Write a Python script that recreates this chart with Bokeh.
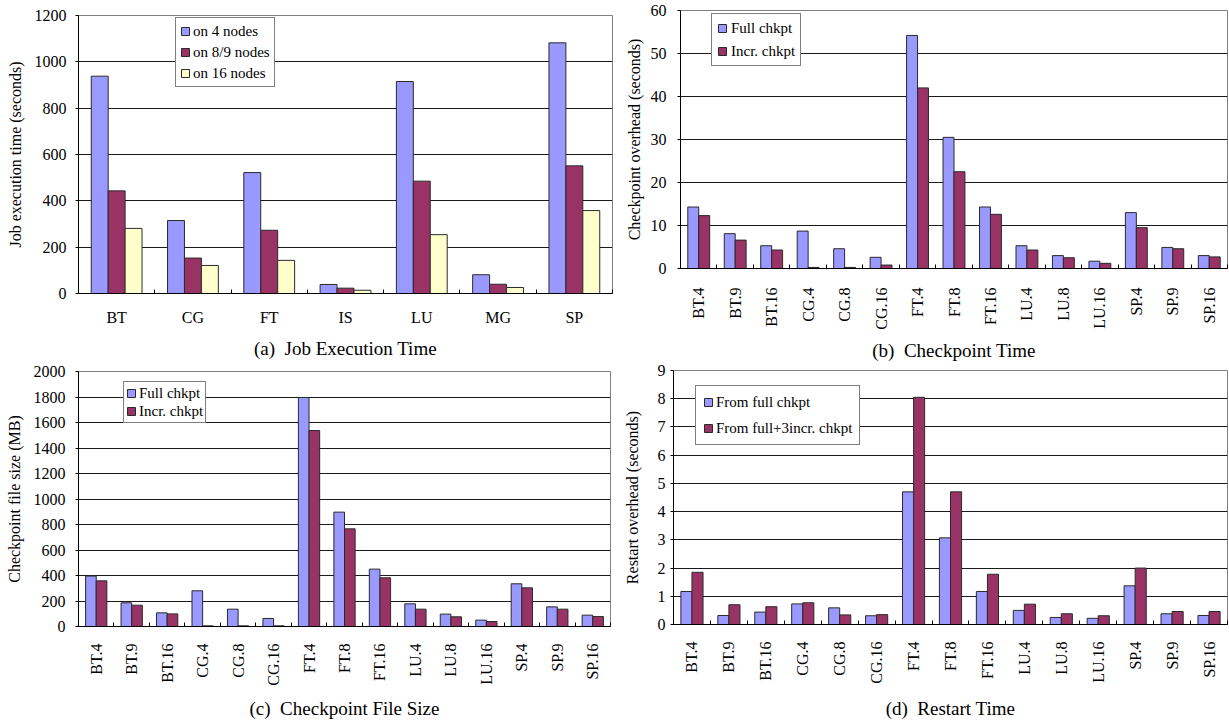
import math
from bokeh.plotting import figure
from bokeh.models import Range1d, FixedTicker, Legend, LegendItem
from bokeh.layouts import column, row
from bokeh.embed import file_html
from bokeh.resources import INLINE

# ---------------- data ----------------
a_categories = ["BT", "CG", "FT", "IS", "LU", "MG", "SP"]
a_on_4_nodes = [938, 315, 522, 39, 915, 81, 1082]
a_on_8_9_nodes = [443, 153, 273, 23, 485, 40, 551]
a_on_16_nodes = [281, 121, 143, 14, 254, 26, 358]
a_series_names = ["on 4 nodes", "on 8/9 nodes", "on 16 nodes"]

bench_labels = ["BT.4", "BT.9", "BT.16", "CG.4", "CG.8", "CG.16", "FT.4", "FT.8",
                "FT.16", "LU.4", "LU.8", "LU.16", "SP.4", "SP.9", "SP.16"]

b_full_chkpt = [14.3, 8.1, 5.3, 8.7, 4.6, 2.6, 54.2, 30.5, 14.3, 5.3, 3.0, 1.7, 13.0, 4.9, 3.0]
b_incr_chkpt = [12.3, 6.6, 4.3, 0.25, 0.25, 0.8, 42.0, 22.5, 12.6, 4.3, 2.5, 1.2, 9.5, 4.6, 2.7]

c_full_chkpt = [395, 186, 107, 280, 136, 63, 1796, 897, 450, 178, 97, 50, 335, 154, 89]
c_incr_chkpt = [358, 167, 99, 5, 5, 5, 1537, 766, 382, 136, 76, 39, 303, 136, 78]

d_from_full = [1.17, 0.32, 0.44, 0.73, 0.59, 0.31, 4.70, 3.07, 1.17, 0.50, 0.25, 0.22, 1.37, 0.38, 0.32]
d_from_full_incr = [1.85, 0.70, 0.63, 0.77, 0.34, 0.35, 8.05, 4.70, 1.78, 0.72, 0.38, 0.31, 2.00, 0.46, 0.46]

two_names_ckpt = ["Full chkpt", "Incr. chkpt"]
two_names_restart = ["From full chkpt", "From full+3incr. chkpt"]

COLORS = ["#9999FF", "#993366", "#FFFFCC"]
FONT = "Liberation Serif"
NB = "\u00a0"


def make_panel(labels, series, names, width, height, borders, ymax, ystep,
               ylabel, caption, bar_w, rotate, ylab_standoff, yaxlab_standoff,
               xlab_standoff, cap_standoff, legend_cfg):
    n = len(labels)
    bl, br, bt, bb = borders
    p = figure(width=width, height=height, output_backend="svg", toolbar_location=None,
               x_range=Range1d(-0.5, n - 0.5), y_range=Range1d(0, ymax),
               min_border_left=bl, min_border_right=br, min_border_top=bt,
               min_border_bottom=bb)
    try:
        p.frame_align = False
    except Exception:
        pass
    p.background_fill_color = "white"
    p.border_fill_color = "white"
    p.outline_line_color = "#808080"
    p.outline_line_width = 1

    k = len(series)
    items = []
    for j, (vals, name) in enumerate(zip(series, names)):
        off = (j - (k - 1) / 2.0) * bar_w
        xs = [i + off for i in range(n)]
        r = p.vbar(x=xs, top=vals, bottom=0, width=bar_w, fill_color=COLORS[j],
                   line_color="#2a2a2a", line_width=1)
        items.append(LegendItem(label=name, renderers=[r]))

    # x axis
    xa = p.xaxis[0]
    xa.ticker = FixedTicker(ticks=list(range(n)),
                            minor_ticks=[i + 0.5 for i in range(-1, n)])
    xa.major_label_overrides = {i: lab for i, lab in enumerate(labels)}
    xa.major_tick_in = 0
    xa.major_tick_out = 0
    xa.minor_tick_in = 4
    xa.minor_tick_out = 0
    xa.minor_tick_line_color = "black"
    xa.axis_line_color = "black"
    xa.major_label_text_font = FONT
    xa.major_label_text_font_size = "16px"
    xa.major_label_text_color = "black"
    xa.major_label_standoff = xlab_standoff
    if rotate:
        xa.major_label_orientation = math.pi / 2
    xa.axis_label = caption
    xa.axis_label_text_font = FONT
    xa.axis_label_text_font_size = "19px"
    xa.axis_label_text_font_style = "normal"
    xa.axis_label_text_color = "black"
    xa.axis_label_standoff = cap_standoff

    # y axis
    ya = p.yaxis[0]
    ya.ticker = FixedTicker(ticks=[v * ystep for v in range(int(round(ymax / ystep)) + 1)])
    ya.major_tick_in = 0
    ya.major_tick_out = 3
    ya.minor_tick_in = 0
    ya.minor_tick_out = 0
    ya.major_tick_line_color = "black"
    ya.axis_line_color = "black"
    ya.major_label_text_font = FONT
    ya.major_label_text_font_size = "16px"
    ya.major_label_text_color = "black"
    ya.major_label_standoff = ylab_standoff
    ya.axis_label = ylabel
    ya.axis_label_text_font = FONT
    ya.axis_label_text_font_size = "16px"
    ya.axis_label_text_font_style = "normal"
    ya.axis_label_text_color = "black"
    ya.axis_label_standoff = yaxlab_standoff

    p.xgrid.visible = False
    p.ygrid.ticker = FixedTicker(ticks=[v * ystep for v in range(1, int(round(ymax / ystep)))])
    p.ygrid.grid_line_color = "#1a1a1a"
    p.ygrid.grid_line_width = 1

    loc, pad, lh, sp, stand = legend_cfg
    leg = Legend(items=items, location=loc, padding=pad, label_height=lh, spacing=sp,
                 glyph_width=10, glyph_height=10, label_standoff=stand,
                 label_text_font=FONT, label_text_font_size="15px",
                 label_text_color="black", border_line_color="black",
                 border_line_width=1, background_fill_color="white",
                 background_fill_alpha=1.0, margin=0)
    p.add_layout(leg, "center")
    return p


pa = make_panel(a_categories, [a_on_4_nodes, a_on_8_9_nodes, a_on_16_nodes], a_series_names,
                614, 363, (78, 2, 15, 70), 1200, 200, "Job execution time (seconds)",
                "(a)" + NB + NB + "Job Execution Time", 0.222, False, 9, 8, 15, 9,
                ((97, 206), 4, 18, 3, 3))

pb = make_panel(bench_labels, [b_full_chkpt, b_incr_chkpt], two_names_ckpt,
                614, 363, (66, 1, 10, 95), 60, 10, "Checkpoint overhead (seconds)",
                "(b)" + NB + NB + "Checkpoint Time", 0.3, True, 11, 5, 19, 7,
                ((31, 202), 5, 18, 5, 4))

pc = make_panel(bench_labels, [c_full_chkpt, c_incr_chkpt], two_names_ckpt,
                614, 360, (78, 4, 8, 97), 2000, 200, "Checkpoint file size (MB)",
                "(c)" + NB + NB + "Checkpoint File Size", 0.3, True, 10, 8, 17, 9,
                ((45, 203), 2, 18, 0, 3))

pd_ = make_panel(bench_labels, [d_from_full, d_from_full_incr], two_names_restart,
                 614, 360, (59, 1, 7, 99), 9, 1, "Restart overhead (seconds)",
                 "(d)" + NB + NB + "Restart Time", 0.3, True, 5, 14, 17, 11,
                 ((22, 179), 7, 18, 8, 3))

layout = column(row(pa, pb), row(pc, pd_))
open("out.html", "w").write(file_html(layout, INLINE))
